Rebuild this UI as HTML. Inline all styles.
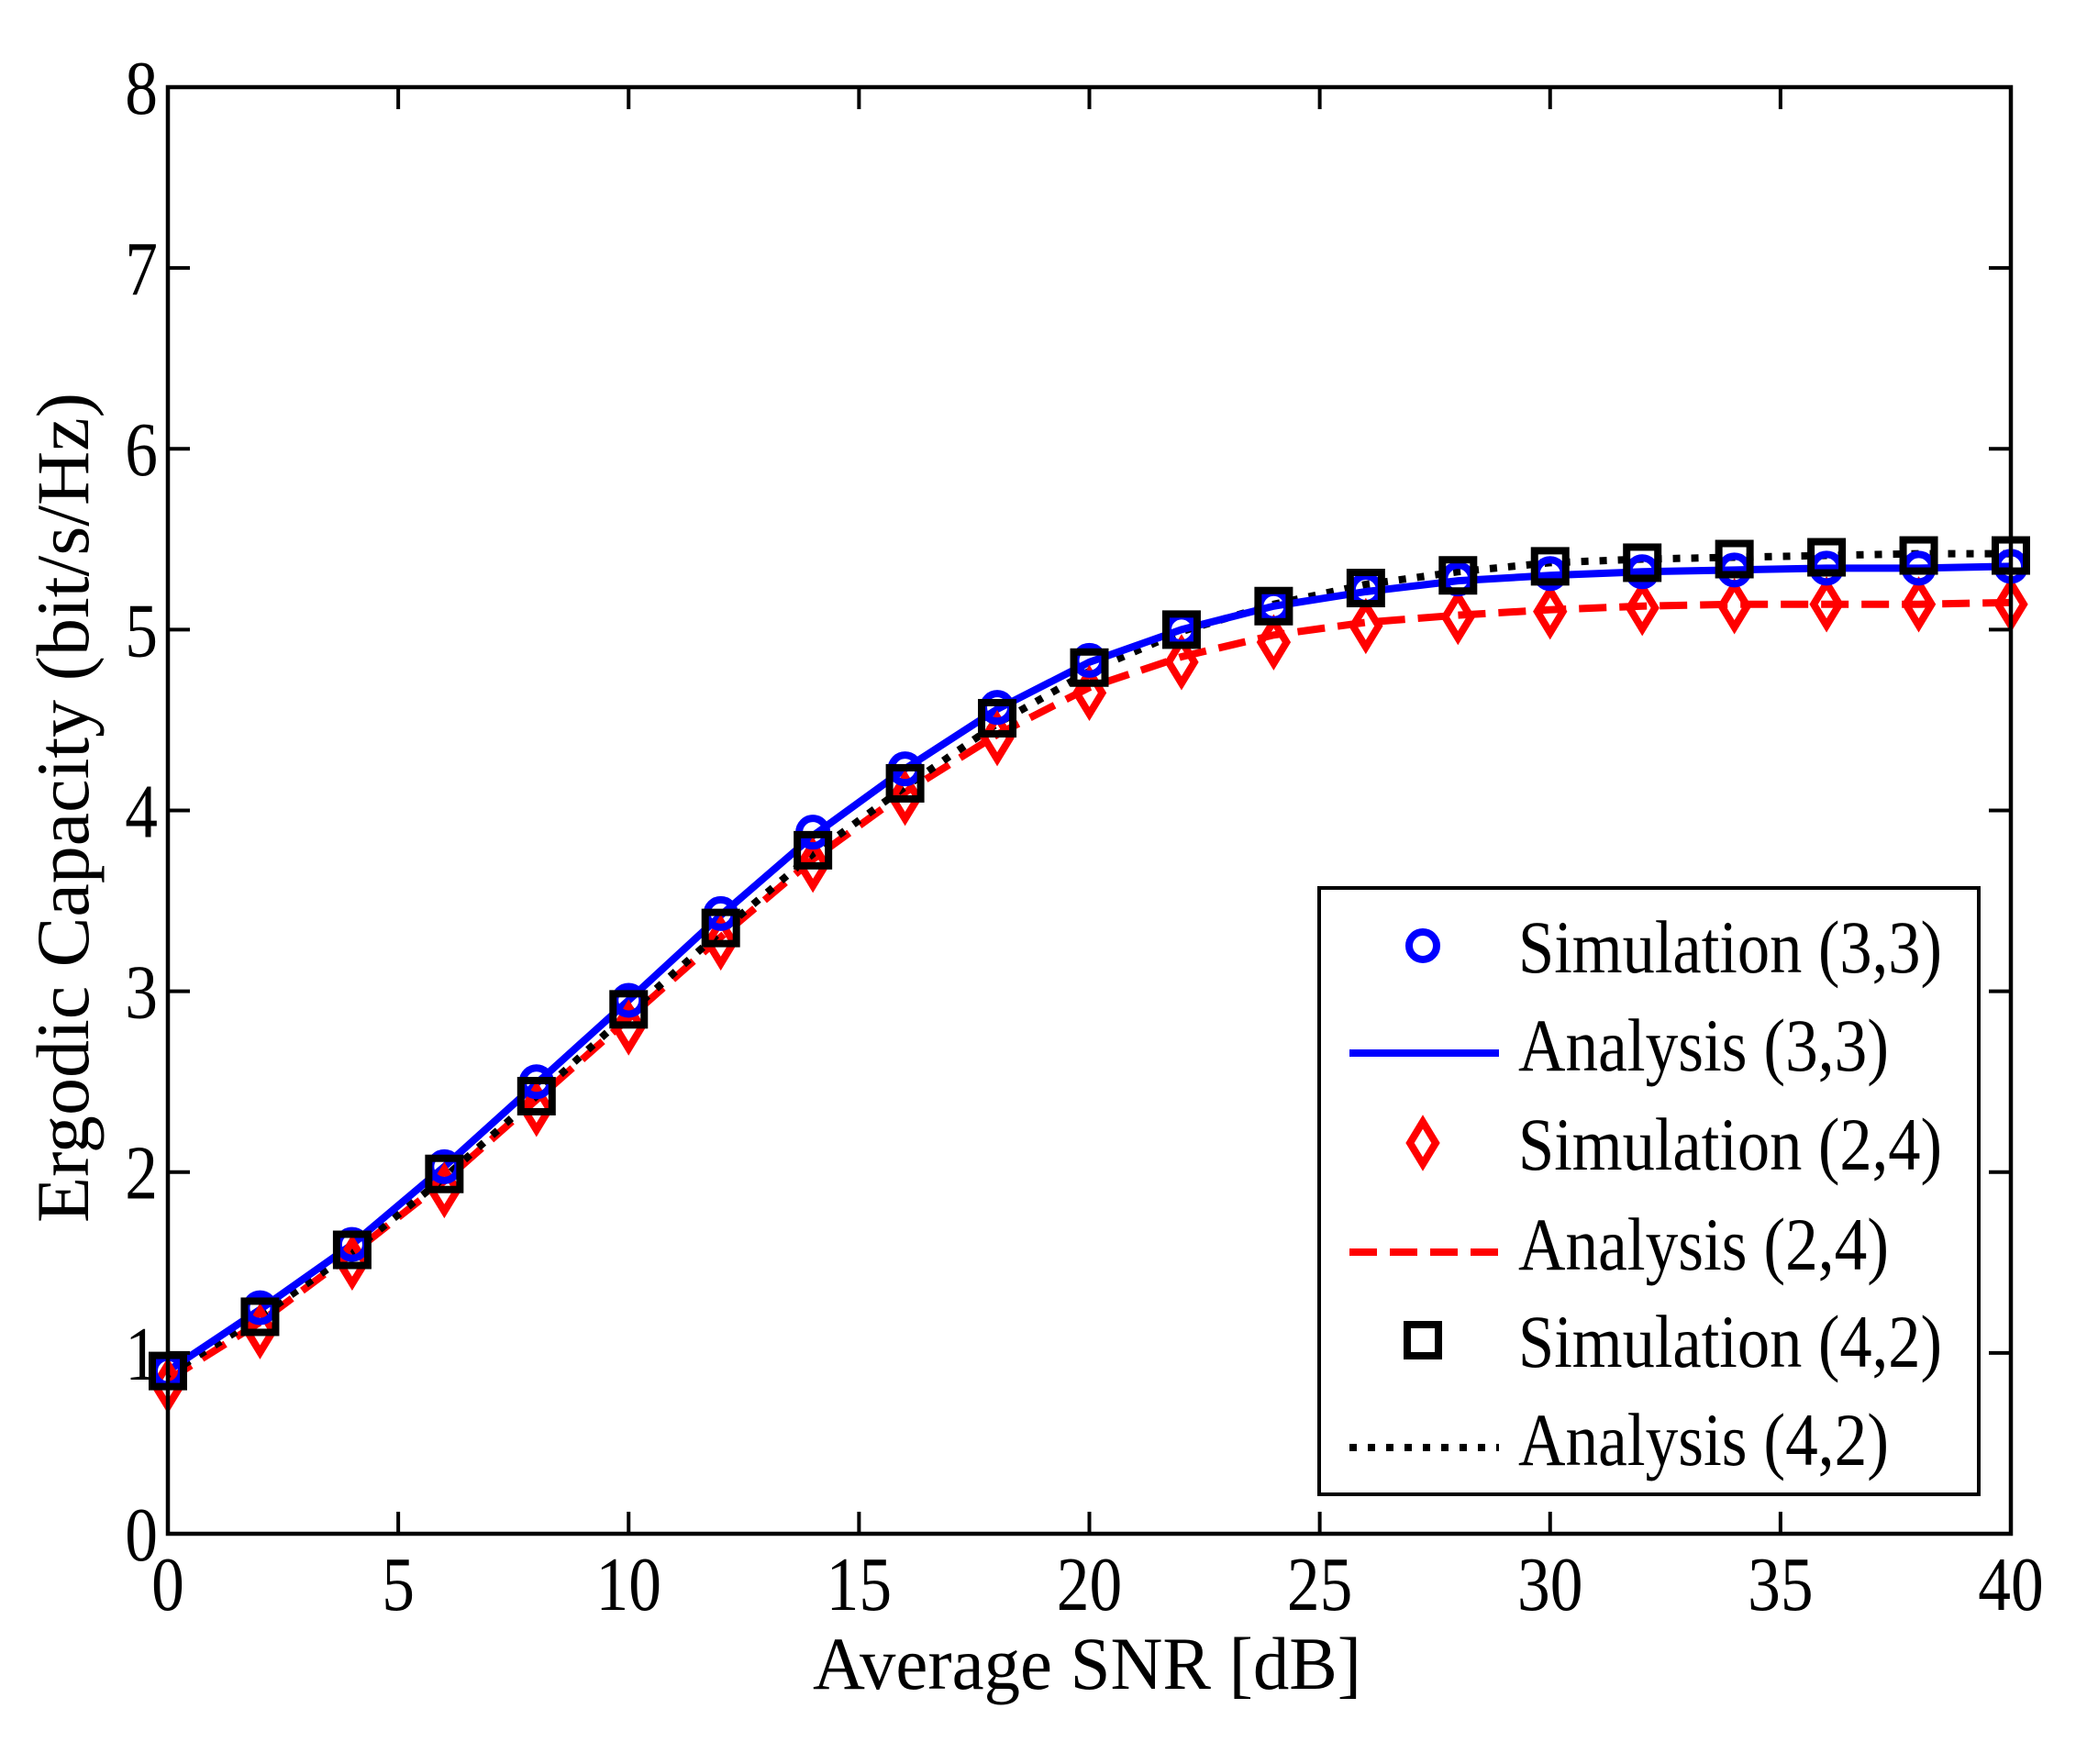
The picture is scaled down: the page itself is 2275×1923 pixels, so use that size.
<!DOCTYPE html>
<html><head><meta charset="utf-8"><style>
html,body{margin:0;padding:0;background:#fff;}
svg{display:block;font-family:"Liberation Serif",serif;}
</style></head><body>
<svg id="chart" width="2275" height="1923" viewBox="0 0 2275 1923" xmlns="http://www.w3.org/2000/svg">
<rect width="2275" height="1923" fill="#fff"/>
<g id="plot"></g>
</svg>
<script>
const snr = [0,2,4,6,8,10,12,14,16,18,20,22,24,26,28,30,32,34,36,38,40];
const sim33 = [0.9,1.25,1.6,2.03,2.5,2.95,3.43,3.88,4.23,4.57,4.83,5.0,5.13,5.22,5.28,5.31,5.32,5.33,5.34,5.34,5.35];
const ana33 = [0.9,1.24,1.6,2.03,2.49,2.95,3.42,3.86,4.23,4.56,4.82,5.0,5.13,5.21,5.27,5.3,5.32,5.33,5.34,5.34,5.35];
const sim24 = [0.82,1.12,1.5,1.9,2.35,2.8,3.27,3.7,4.07,4.4,4.65,4.82,4.93,5.02,5.07,5.1,5.12,5.13,5.14,5.14,5.14];
const ana24 = [0.85,1.17,1.55,1.95,2.4,2.85,3.3,3.73,4.1,4.42,4.68,4.85,4.97,5.04,5.08,5.11,5.13,5.14,5.14,5.14,5.15];
const sim42 = [0.9,1.2,1.57,1.99,2.42,2.9,3.35,3.78,4.15,4.51,4.79,5.0,5.13,5.23,5.3,5.35,5.37,5.39,5.4,5.41,5.41];
const ana42 = [0.88,1.2,1.56,1.97,2.42,2.88,3.33,3.76,4.13,4.48,4.77,4.99,5.14,5.25,5.32,5.37,5.39,5.4,5.41,5.42,5.42];
const xTicks = [0,5,10,15,20,25,30,35,40];
const yTicks = [0,1,2,3,4,5,6,7,8];
const legendLabels = ["Simulation (3,3)","Analysis (3,3)","Simulation (2,4)","Analysis (2,4)","Simulation (4,2)","Analysis (4,2)"];

const L=183,R=2192,T=95,B=1672;
const sx=v=>L+(v-0)/(40-0)*(R-L);
const sy=v=>B-(v-0)/(8-0)*(B-T);
const NS="http://www.w3.org/2000/svg";
const g=document.getElementById('plot');
function mk(tag,attrs,parent){const e=document.createElementNS(NS,tag);for(const k in attrs)e.setAttribute(k,attrs[k]);(parent||g).appendChild(e);return e;}

function line(ys,color,dash,w,name){
  const e=mk('polyline',{points:ys.map((y,i)=>sx(snr[i])+','+sy(y)).join(' '),fill:'none',stroke:color,'stroke-width':w,'stroke-dasharray':dash});
  
  
}
line(ana24,'#ff0000','30 14',8,'analysis-2-4-line');
line(ana42,'#000','8 12',8,'analysis-4-2-line');
line(ana33,'#0000ff','none',8,'analysis-3-3-line');

function circle(x,y,parent){return mk('circle',{cx:x,cy:y,r:15,fill:'none',stroke:'#0000ff','stroke-width':8},parent);}
function diamond(x,y,parent){return mk('polygon',{points:`${x},${y-23} ${x+14},${y} ${x},${y+23} ${x-14},${y}`,fill:'none',stroke:'#ff0000','stroke-width':8},parent);}
function square(x,y,parent){return mk('rect',{x:x-17,y:y-17,width:34,height:34,fill:'none',stroke:'#000','stroke-width':8},parent);}
snr.forEach((s,i)=>{
  const a=diamond(sx(s),sy(sim24[i]));
  
  
  const b=circle(sx(s),sy(sim33[i]));
  
  
  const c=square(sx(s),sy(sim42[i]));
  
  
});

const box=mk('rect',{x:L,y:T,width:R-L,height:B-T,fill:'none',stroke:'#000','stroke-width':4.5});


xTicks.forEach(v=>{
  const x=sx(v);
  mk('line',{x1:x,y1:B,x2:x,y2:B-24,stroke:'#000','stroke-width':4});
  mk('line',{x1:x,y1:T,x2:x,y2:T+24,stroke:'#000','stroke-width':4});
  const t=mk('text',{x:x,y:1755,'font-size':84,'text-anchor':'middle',transform:`translate(${x},0) scale(0.85,1) translate(${-x},0)`});
  t.textContent=v;
  
  
});
yTicks.forEach(v=>{
  const y=sy(v);
  mk('line',{x1:L,y1:y,x2:L+24,y2:y,stroke:'#000','stroke-width':4});
  mk('line',{x1:R,y1:y,x2:R-24,y2:y,stroke:'#000','stroke-width':4});
  const t=mk('text',{x:172,y:y+29,'font-size':84,'text-anchor':'end',transform:`translate(172,0) scale(0.85,1) translate(-172,0)`});
  t.textContent=v;
  
  
});
const xl=mk('text',{x:886,y:1841,'font-size':82,textLength:598,lengthAdjust:'spacingAndGlyphs'});
xl.textContent='Average  SNR  [dB]';


const yl=mk('text',{x:0,y:0,'font-size':82,textLength:905,lengthAdjust:'spacingAndGlyphs',transform:'translate(96,1333) rotate(-90)'});
yl.textContent='Ergodic Capacity (bit/s/Hz)';



const lg=mk('g',{});


mk('rect',{x:1438,y:968,width:719,height:661,fill:'#fff',stroke:'#000','stroke-width':4},lg);
const ly=[1031,1138,1246,1355,1461,1568];
const lw=[462,404,462,404,462,404];
legendLabels.forEach((lab,i)=>{
  const y=ly[i];
  const eg=mk('g',{},lg);
  
  
  if(i===0)circle(1551,y,eg);
  if(i===2)diamond(1551,y,eg);
  if(i===4)square(1551,y,eg);
  if(i===1)mk('line',{x1:1471,y1:y+10,x2:1634,y2:y+10,stroke:'#0000ff','stroke-width':8},eg);
  if(i===3)mk('line',{x1:1471,y1:y+10,x2:1634,y2:y+10,stroke:'#ff0000','stroke-width':8,'stroke-dasharray':'30 14'},eg);
  if(i===5)mk('line',{x1:1471,y1:y+10,x2:1634,y2:y+10,stroke:'#000','stroke-width':8,'stroke-dasharray':'8 12'},eg);
  const t=mk('text',{x:1655,y:y+29,'font-size':82,textLength:lw[i],lengthAdjust:'spacingAndGlyphs'},eg);
  t.textContent=lab;
});
</script>
</body></html>
